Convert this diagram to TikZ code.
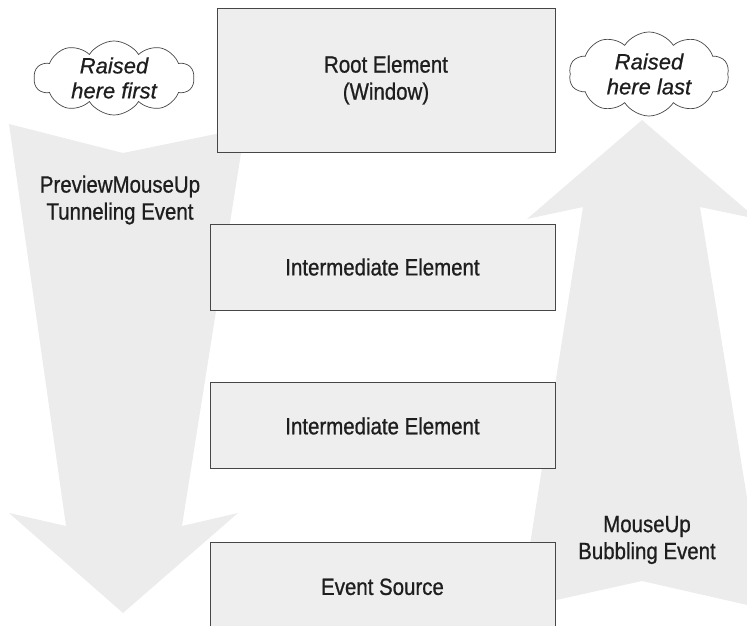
\documentclass[tikz,border=0pt]{standalone}
\usepackage{fontspec}
\setmainfont{Liberation Sans}
\newfontfamily\condfont{Liberation Sans}[FakeStretch=0.87, FakeBold=0.8]
\newfontfamily\cloudfont{Liberation Sans}[FakeBold=0.6]
\usetikzlibrary{positioning,shapes.symbols}
\definecolor{rtedge}{RGB}{70,70,70}
\definecolor{rtbox}{RGB}{238,238,238}
\definecolor{rtflow}{RGB}{236,236,236}
\definecolor{rtink}{RGB}{30,30,30}
\tikzset{
  elem/.style={
    draw=rtedge, line width=0.9pt, fill=rtbox, align=center,
    minimum width=345pt, minimum height=86pt, text=rtink,
    font=\condfont\fontsize{23.5}{27}\selectfont
  },
  flow/.style={fill=rtflow},
  flowtext/.style={align=center, text=rtink, font=\condfont\fontsize{23.5}{27}\selectfont},
  bubble/.style={
    cloud, cloud puffs=10, cloud puff arc=115, cloud ignores aspect,
    draw=rtedge, line width=0.7pt, fill=white, inner sep=0pt,
    minimum width=160pt, minimum height=74pt
  },
  bubbletext/.style={align=center, text=rtink, font=\cloudfont\itshape\fontsize{22}{25}\selectfont}
}

\begin{document}
\begin{tikzpicture}[x=1pt, y=1pt]
  \useasboundingbox (0,0) rectangle (747,-626);
  \clip (0,0) rectangle (747,-626);
  % tunneling (down) and bubbling (up) arrows
  \fill[flow] (9,-124) -- (123,-153) -- (245,-128) -- (182,-526) -- (238,-513)
    -- (123,-613) -- (9,-513) -- (66,-526) -- cycle;
  \fill[flow] (642,-120) -- (757,-219) -- (700,-207) -- (765,-609) -- (642,-581)
    -- (520,-608) -- (583,-207) -- (527,-219) -- cycle;
  % element tree
  \node[elem, minimum width=338pt, minimum height=144pt] (root) at (386,-80) {Root Element\\(Window)};
  \node[elem] (midA) at (382.5,-267) {Intermediate Element};
  \node[elem, below=72pt of midA] (midB) {Intermediate Element};
  \node[elem, below=73pt of midB, minimum height=88pt] (source) {Event Source};
  % clouds
  \node[bubble] (first) at (114,-78) {};
  \node[bubbletext] at (first) {Raised\\here first};
  \node[bubble, minimum height=84pt] (last) at (649,-74) {};
  \node[bubbletext] at (last) {Raised\\here last};
  % arrow labels
  \node[flowtext] (tunnel) at (120,-200) {PreviewMouseUp\\Tunneling Event};
  \node[flowtext] (bubbling) at (647,-540) {MouseUp\\Bubbling Event};
\end{tikzpicture}
\end{document}
